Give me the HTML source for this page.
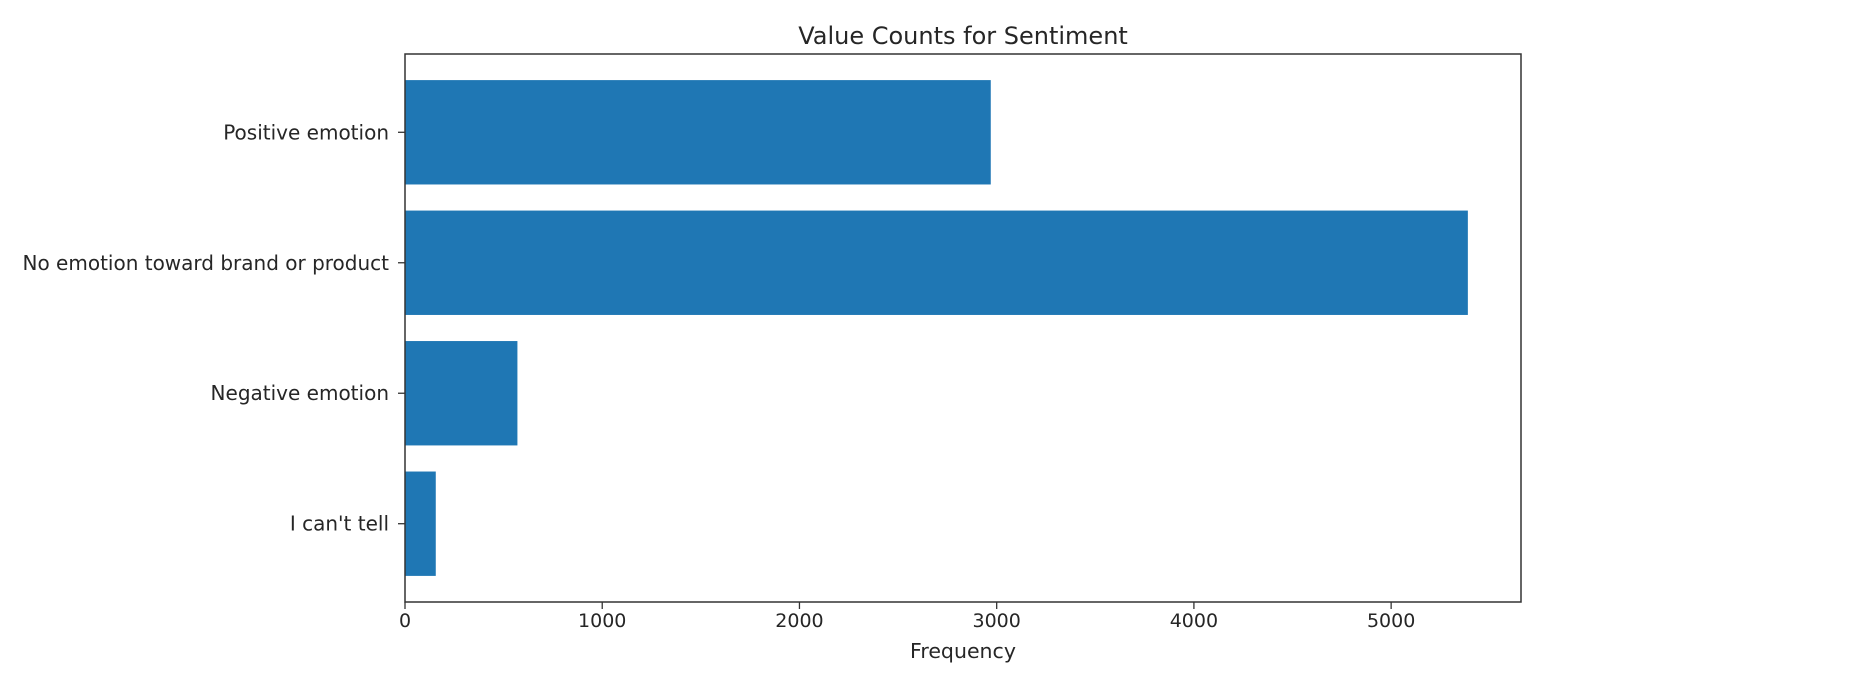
<!DOCTYPE html>
<html><head><meta charset="utf-8"><style>
html,body{margin:0;padding:0;background:#fff;}
svg{display:block;font-family:"DejaVu Sans","Liberation Sans",sans-serif;}
</style></head><body>
<svg id="chart" width="1860" height="684" viewBox="0 0 1860 684"></svg>
<script>
const categories = ["I can't tell", "Negative emotion", "No emotion toward brand or product", "Positive emotion"];
const counts = [156, 570, 5389, 2970];
const xTicks = [0, 1000, 2000, 3000, 4000, 5000];
const xTickLabels = ["0", "1000", "2000", "3000", "4000", "5000"];

const NS = "http://www.w3.org/2000/svg";
const svg = document.getElementById('chart');
const L = 405, R = 1521, T = 54, B = 602;
const xMax = Math.max(...counts) * 1.05;
const yMin = -0.6, yMax = categories.length - 1 + 0.6;
function xs(v){ return L + (v / xMax) * (R - L); }
function ys(i){ return B - (i - yMin) / (yMax - yMin) * (B - T); }
const unit = (B - T) / (yMax - yMin);

function mk(tag, attrs){ const e = document.createElementNS(NS, tag); for (const k in attrs) e.setAttribute(k, attrs[k]); svg.appendChild(e); return e; }

const title = mk('text', {x: (L + R) / 2, y: 44, 'text-anchor': 'middle', 'font-size': 24, fill: '#262626'});
title.textContent = 'Value Counts for Sentiment';



counts.forEach((v, i) => {
  const r = mk('rect', {x: xs(0), y: ys(i) - unit * 0.4, width: xs(v) - xs(0), height: unit * 0.8, fill: '#1f77b4'});
  
  
  const tk = mk('line', {x1: L - 7, x2: L, y1: ys(i), y2: ys(i), stroke: '#333', 'stroke-width': 1.3});
  
  
  const lb = mk('text', {x: L - 16, y: ys(i) + 7, 'text-anchor': 'end', 'font-size': 20, fill: '#262626'});
  lb.textContent = categories[i];
  
  
});

xTicks.forEach((v, i) => {
  const tk = mk('line', {x1: xs(v), x2: xs(v), y1: B, y2: B + 7, stroke: '#333', 'stroke-width': 1.3});
  
  
  const lb = mk('text', {x: xs(v), y: 627, 'text-anchor': 'middle', 'font-size': 19, fill: '#262626'});
  lb.textContent = xTickLabels[i];
  
  
});

const frame = mk('rect', {x: L, y: T, width: R - L, height: B - T, fill: 'none', stroke: '#333', 'stroke-width': 1.5});



const xt = mk('text', {x: (L + R) / 2, y: 658, 'text-anchor': 'middle', 'font-size': 20.5, fill: '#262626'});
xt.textContent = 'Frequency';


</script>
</body></html>
